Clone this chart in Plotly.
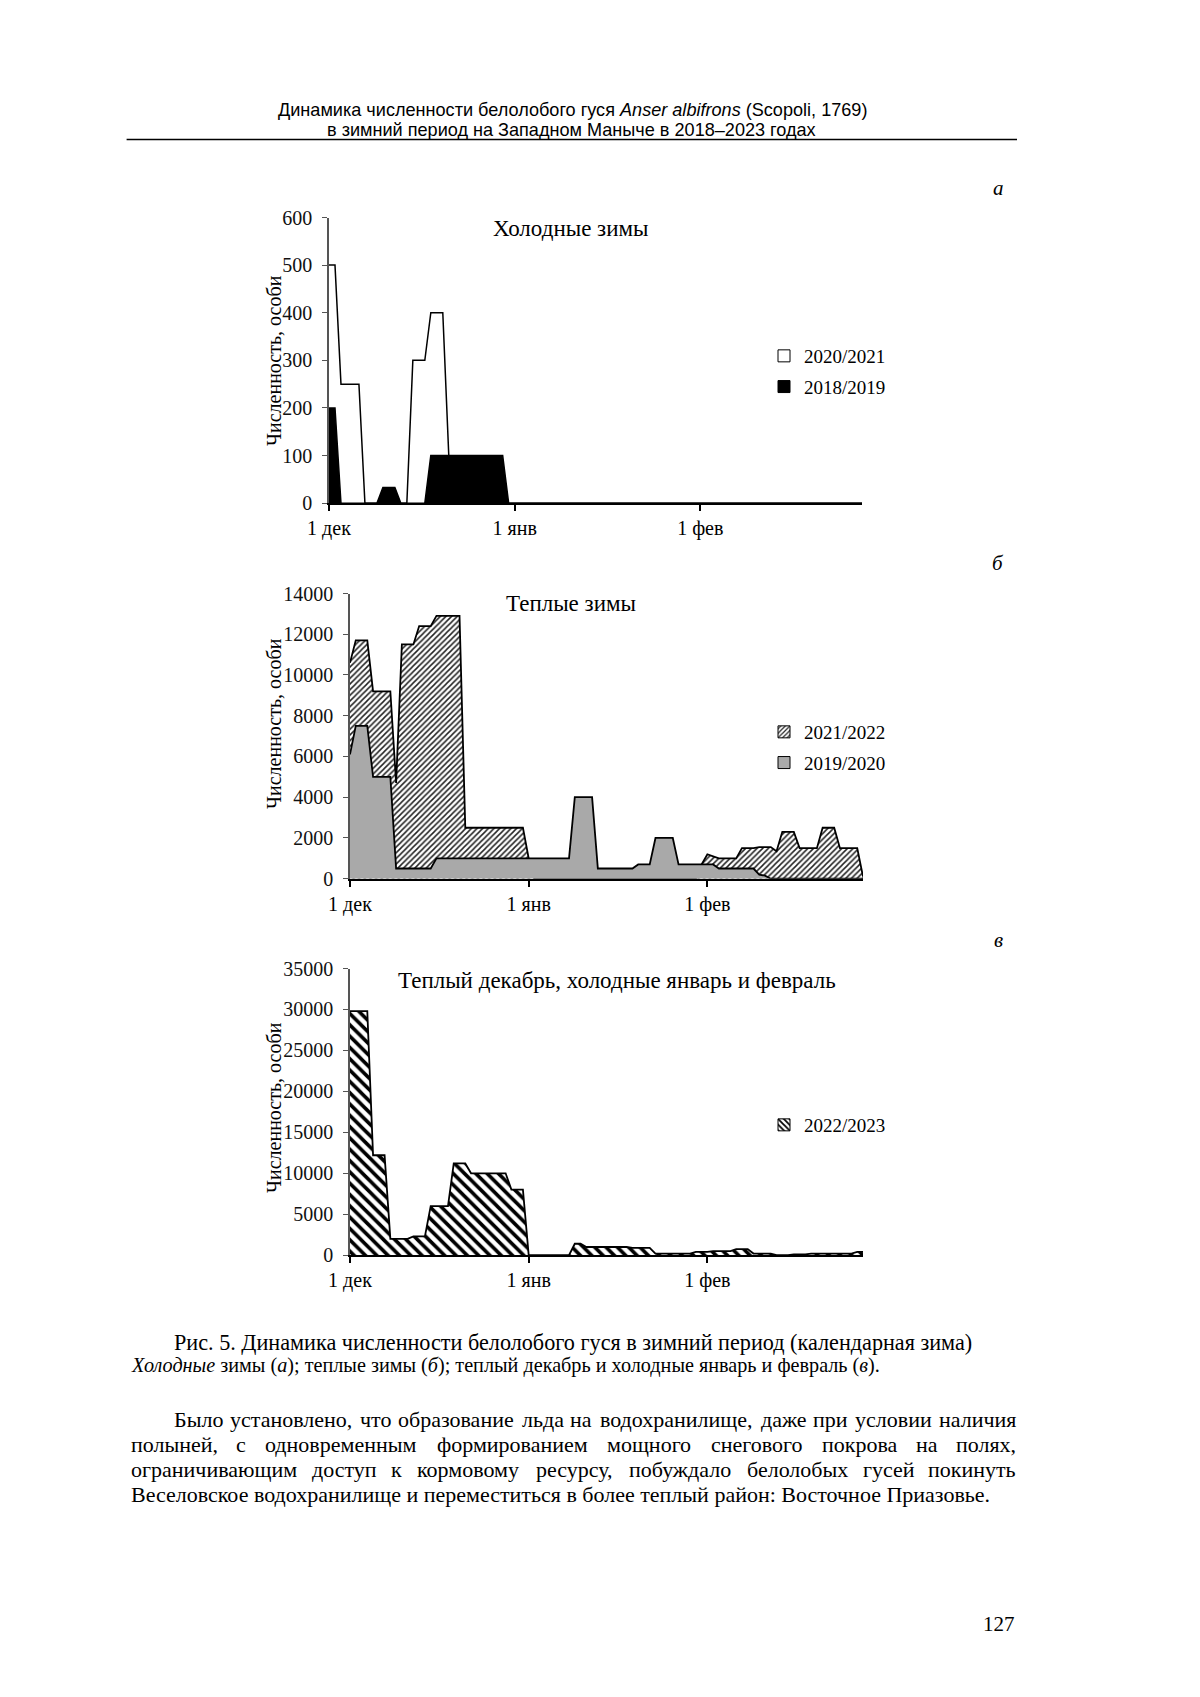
import plotly.graph_objects as go

W, H = 1200, 1697
PAGE_OFFSET = 8          # the page body margin shifts the figure by 8 px
SERIF = "Liberation Serif, Times New Roman, serif"
SANS = "Liberation Sans, Arial, sans-serif"

# ---------------- data ----------------
DAYS = list(range(90))              # 1 Dec .. 28 Feb (day index)
DAY_TICKS = [0, 31, 62]
DAY_LABELS = ["1 дек", "1 янв", "1 фев"]

# (а) cold winters
COLD_2020_2021 = [500, 500, 250, 250, 250, 250, 0, 0, 0, 0,
                  0, 0, 0, 0, 300, 300, 300, 400, 400, 400,
                  100, 0, 0, 0, 0, 0, 0, 0, 0, 0,
                  0, 0, 0, 0, 0, 0, 0, 0, 0, 0,
                  0, 0, 0, 0, 0, 0, 0, 0, 0, 0,
                  0, 0, 0, 0, 0, 0, 0, 0, 0, 0,
                  0, 0, 0, 0, 0, 0, 0, 0, 0, 0,
                  0, 0, 0, 0, 0, 0, 0, 0, 0, 0,
                  0, 0, 0, 0, 0, 0, 0, 0, 0, 0]
COLD_2018_2019 = [200, 200, 0, 0, 0, 0, 0, 0, 0, 33,
                  33, 33, 0, 0, 0, 0, 0, 100, 100, 100,
                  100, 100, 100, 100, 100, 100, 100, 100, 100, 100,
                  0, 0, 0, 0, 0, 0, 0, 0, 0, 0,
                  0, 0, 0, 0, 0, 0, 0, 0, 0, 0,
                  0, 0, 0, 0, 0, 0, 0, 0, 0, 0,
                  0, 0, 0, 0, 0, 0, 0, 0, 0, 0,
                  0, 0, 0, 0, 0, 0, 0, 0, 0, 0,
                  0, 0, 0, 0, 0, 0, 0, 0, 0, 0]

# (б) warm winters
WARM_2021_2022 = [10600, 11700, 11700, 11700, 9200, 9200, 9200, 9200, 4700, 11500,
                  11500, 11500, 12400, 12400, 12400, 12900, 12900, 12900, 12900, 12900,
                  2500, 2500, 2500, 2500, 2500, 2500, 2500, 2500, 2500, 2500,
                  2500, 1000, 0, 0, 0, 0, 0, 0, 0, 0,
                  0, 0, 0, 0, 0, 0, 0, 0, 0, 0,
                  0, 0, 0, 0, 0, 0, 0, 0, 0, 0,
                  0, 700, 1200, 1100, 1000, 1000, 1000, 1000, 1500, 1500,
                  1500, 1550, 1550, 1550, 1350, 2300, 2300, 2300, 1500, 1500,
                  1500, 1500, 2500, 2500, 2500, 1500, 1500, 1500, 1500, 100]
WARM_2019_2020 = [6100, 7500, 7500, 7500, 5000, 5000, 5000, 5000, 500, 500,
                  500, 500, 500, 500, 500, 1000, 1000, 1000, 1000, 1000,
                  1000, 1000, 1000, 1000, 1000, 1000, 1000, 1000, 1000, 1000,
                  1000, 1000, 1000, 1000, 1000, 1000, 1000, 1000, 1000, 4000,
                  4000, 4000, 4000, 500, 500, 500, 500, 500, 500, 500,
                  700, 700, 700, 2000, 2000, 2000, 2000, 700, 700, 700,
                  700, 700, 700, 700, 500, 500, 500, 500, 500, 500,
                  500, 200, 150, 0, 0, 0, 0, 0, 0, 0,
                  0, 0, 0, 0, 0, 0, 0, 0, 0, 0]

# (в) warm December, cold January and February
MIXED_2022_2023 = [29800, 29800, 29800, 29800, 12200, 12200, 12200, 2000, 2000, 2000,
                   2000, 2300, 2300, 2300, 6000, 6000, 6000, 6000, 11200, 11200,
                   11200, 10000, 10000, 10000, 10000, 10000, 10000, 10000, 8000, 8000,
                   8000, 0, 0, 0, 0, 0, 0, 0, 0, 1400,
                   1400, 1000, 1000, 1000, 1000, 1000, 1000, 1000, 1000, 900,
                   900, 900, 900, 200, 200, 200, 200, 200, 200, 200,
                   400, 400, 400, 500, 500, 500, 500, 750, 750, 750,
                   200, 200, 200, 200, 0, 0, 0, 100, 100, 100,
                   200, 200, 200, 200, 200, 200, 200, 200, 400, 400]

# ---------------- text helpers ----------------
_UP = "АБВГДЕЖЗИЙКЛМНОПРСТУФХЦЧШЩЪЫЬЭЮЯ"
_UPW = [722, 574, 667, 578, 682, 611, 896, 501, 722, 722, 667, 678, 889, 722, 722, 722,
        556, 667, 611, 708, 790, 722, 722, 650, 1009, 1009, 706, 872, 574, 668, 1028, 661]
_LO = "абвгдежзийклмнопрстуфхцчшщъыьэюя"
_LOW = [444, 509, 472, 410, 509, 444, 691, 395, 535, 535, 486, 499, 633, 535, 500, 535,
        500, 444, 437, 500, 648, 500, 535, 503, 770, 770, 517, 672, 456, 429, 747, 479]
TNR = dict(zip(_UP, _UPW))
TNR.update(dict(zip(_LO, _LOW)))
TNR.update({" ": 250, ",": 250, ".": 250, ":": 278, ";": 278, "(": 333, ")": 333,
            "–": 500, "/": 278})


def em_width(s):
    return sum(TNR.get(c, 500) for c in s) / 1000.0


def px(x):
    return (x - PAGE_OFFSET) / W


def py(y):
    return 1 - (y - PAGE_OFFSET) / H


annotations = []


def ann(text, x, y, size, family=SERIF, xanchor="center", yanchor="middle", angle=0):
    annotations.append(dict(text=text, x=px(x), y=py(y), xref="paper", yref="paper",
                            showarrow=False, xanchor=xanchor, yanchor=yanchor,
                            textangle=angle, borderpad=0,
                            font=dict(family=family, size=size, color="black")))


def justify(line, left, right, y, size):
    words = line.split()
    widths = [1.01 * em_width(w) * size for w in words]
    gap = (right - left - sum(widths)) / (len(words) - 1)
    x = left
    for i, (w, wd) in enumerate(zip(words, widths)):
        if i == 0:
            ann(w, left, y, size, xanchor="left")
        elif i == len(words) - 1:
            ann(w, right, y, size, xanchor="right")
        else:
            ann(w, x + wd / 2, y, size, xanchor="center")
        x += wd + gap


# ---------------- figure ----------------
fig = go.Figure()

# chart a
fig.add_trace(go.Scatter(x=DAYS, y=COLD_2020_2021, mode="lines", fill="tozeroy",
                         fillcolor="white", line=dict(color="black", width=1.5),
                         xaxis="x", yaxis="y", showlegend=False, hoverinfo="skip"))
fig.add_trace(go.Scatter(x=DAYS, y=COLD_2018_2019, mode="lines", fill="tozeroy",
                         fillcolor="black", line=dict(color="black", width=1.5),
                         xaxis="x", yaxis="y", showlegend=False, hoverinfo="skip"))
# chart b
fig.add_trace(go.Scatter(x=DAYS, y=WARM_2021_2022, mode="lines", fill="tozeroy",
                         fillcolor="white",
                         fillpattern=dict(shape="/", fgcolor="#222222", bgcolor="white",
                                          size=4, solidity=0.38, fillmode="replace"),
                         line=dict(color="black", width=1.8),
                         xaxis="x2", yaxis="y2", showlegend=False, hoverinfo="skip"))
fig.add_trace(go.Scatter(x=DAYS, y=WARM_2019_2020, mode="lines", fill="tozeroy",
                         fillcolor="#a9a9a9", line=dict(color="black", width=1.8),
                         xaxis="x2", yaxis="y2", showlegend=False, hoverinfo="skip"))
# chart c
fig.add_trace(go.Scatter(x=DAYS, y=MIXED_2022_2023, mode="lines", fill="tozeroy",
                         fillcolor="white",
                         fillpattern=dict(shape="\\", fgcolor="black", bgcolor="white",
                                          size=8, solidity=0.45, fillmode="replace"),
                         line=dict(color="black", width=1.8),
                         xaxis="x3", yaxis="y3", showlegend=False, hoverinfo="skip"))

# legend entries (bar icons give square swatches)
fig.add_trace(go.Bar(x=[None], y=[None], name="2020/2021", legend="legend", legendgroup="a1",
                     marker=dict(color="white", line=dict(color="black", width=1)),
                     xaxis="x", yaxis="y"))
fig.add_trace(go.Bar(x=[None], y=[None], name="2018/2019", legend="legend", legendgroup="a2",
                     marker=dict(color="black", line=dict(color="black", width=1)),
                     xaxis="x", yaxis="y"))
fig.add_trace(go.Bar(x=[None], y=[None], name="2021/2022", legend="legend2", legendgroup="b1",
                     marker=dict(color="white", line=dict(color="black", width=1),
                                 pattern=dict(shape="/", fgcolor="#222222", bgcolor="white",
                                              size=4, solidity=0.38, fillmode="replace")),
                     xaxis="x2", yaxis="y2"))
fig.add_trace(go.Bar(x=[None], y=[None], name="2019/2020", legend="legend2", legendgroup="b2",
                     marker=dict(color="#a9a9a9", line=dict(color="black", width=1)),
                     xaxis="x2", yaxis="y2"))
fig.add_trace(go.Bar(x=[None], y=[None], name="2022/2023", legend="legend3", legendgroup="c1",
                     marker=dict(color="white", line=dict(color="black", width=1),
                                 pattern=dict(shape="\\", fgcolor="black", bgcolor="white",
                                              size=5, solidity=0.45, fillmode="replace")),
                     xaxis="x3", yaxis="y3"))


def xax(left, right, anchor):
    return dict(domain=[px(left), px(right)], range=[0, 89], tickvals=DAY_TICKS,
                ticktext=DAY_LABELS, ticks="outside", ticklen=6, tickwidth=1.5,
                tickcolor="black", showline=True, linecolor="black", linewidth=2,
                showgrid=False, zeroline=False, anchor=anchor, fixedrange=True,
                automargin=False,
                tickfont=dict(family=SERIF, size=20, color="black"))


def yax(bottom, top, ymax, dtick, anchor):
    return dict(domain=[py(bottom), py(top)], range=[0, ymax], dtick=dtick, tickformat="d",
                ticks="outside", ticklen=5, tickwidth=1.2, tickcolor="#555555",
                showline=True, linecolor="#555555", linewidth=1.5, showgrid=False,
                zeroline=False, anchor=anchor, fixedrange=True, ticklabelstandoff=6,
                automargin=False,
                tickfont=dict(family=SERIF, size=20, color="#111111"))


def leg(x, y_top):
    return dict(x=px(x), y=py(y_top), xanchor="left", yanchor="top",
                bgcolor="rgba(0,0,0,0)", borderwidth=0, tracegroupgap=3,
                font=dict(family=SERIF, size=19, color="black"))


fig.update_layout(
    width=W, height=H, autosize=False,
    margin=dict(l=0, r=0, t=0, b=0, pad=0, autoexpand=False),
    paper_bgcolor="white", plot_bgcolor="rgba(0,0,0,0)",
    xaxis=xax(329, 862, "y"), yaxis=yax(503.2, 217.5, 600, 100, "x"),
    xaxis2=xax(350, 863, "y2"), yaxis2=yax(878.7, 593.5, 14000, 2000, "x2"),
    xaxis3=xax(350, 863, "y3"), yaxis3=yax(1255.2, 968.5, 35000, 5000, "x3"),
    legend=leg(764, 337), legend2=leg(764, 713), legend3=leg(764, 1106),
    showlegend=True,
)

# running header
ann("Динамика численности белолобого гуся <i>Anser albifrons</i> (Scopoli, 1769)",
    572, 110, 18.1, family=SANS)
ann("в зимний период на Западном Маныче в 2018–2023 годах", 571, 129.5, 18.1, family=SANS)
fig.add_shape(type="line", xref="paper", yref="paper", x0=px(126.6), x1=px(1017),
              y0=py(139.5), y1=py(139.5), line=dict(color="black", width=1.5))

# panel letters
ann("<i>а</i>", 998, 188, 21)
ann("<i>б</i>", 998, 563, 21)
ann("<i>в</i>", 998, 940, 21)

# chart titles
ann("Холодные зимы", 571, 228, 23)
ann("Теплые зимы", 571, 603, 23)
ann("Теплый декабрь, холодные январь и февраль", 617, 980, 23)

# y-axis titles
ann("Численность, особи", 274, 361, 20, angle=-90)
ann("Численность, особи", 274, 724, 20, angle=-90)
ann("Численность, особи", 274, 1108, 20, angle=-90)

# caption
CAP1 = "Рис. 5. Динамика численности белолобого гуся в зимний период (календарная зима)"
ann(CAP1, 173, 1342, round(798 / (0.995 * em_width(CAP1)), 1), xanchor="left")
CAP2_PLAIN = "Холодные зимы (а); теплые зимы (б); теплый декабрь и холодные январь и февраль (в)."
CAP2 = "<i>Холодные</i> зимы (<i>а</i>); теплые зимы (<i>б</i>); теплый декабрь и холодные январь и февраль (<i>в</i>)."
ann(CAP2, 130, 1365.5, round(749 / (0.99 * em_width(CAP2_PLAIN)), 1), xanchor="left")

# body paragraph
BODY_SIZE = 22
justify("Было установлено, что образование льда на водохранилище, даже при условии наличия",
        173, 1017, 1419.5, BODY_SIZE)
justify("полыней, с одновременным формированием мощного снегового покрова на полях,",
        130, 1017, 1444.5, BODY_SIZE)
justify("ограничивающим доступ к кормовому ресурсу, побуждало белолобых гусей покинуть",
        130, 1017, 1469.5, BODY_SIZE)
ann("Веселовское водохранилище и переместиться в более теплый район: Восточное Приазовье.",
    130, 1494.5, BODY_SIZE, xanchor="left")

# page number
ann("127", 1016, 1624, 21, xanchor="right")

fig.update_layout(annotations=annotations)
fig.write_html("out.html")
